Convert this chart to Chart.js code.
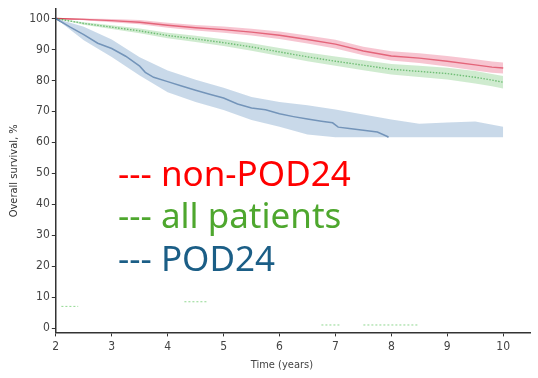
<!DOCTYPE html>
<html>
<head>
  <title>Overall survival POD24</title>
  <script src="https://cdn.jsdelivr.net/npm/chart.js"></script>
  <style>
    body { margin: 0; background: white; }
    #wrap { position: relative; width: 538px; height: 378px; }
    .legend {
      position: absolute;
      left: 118px;
      font-family: "Noto Sans", "Open Sans", sans-serif;
      font-size: 35px;
      line-height: 35px;
      white-space: pre;
    }
  </style>
</head>
<body>
  <div id="wrap">
    <canvas id="survChart" width="538" height="378"></canvas>
    <div class="legend" style="top:155px;color:#ff0000">--- non-POD24</div>
    <div class="legend" style="top:197px;color:#4ea72e">--- all patients</div>
    <div class="legend" style="top:240px;color:#1b5e86">--- POD24</div>
  </div>

  <script>
    // time points (years)
    const yearsMain = [2, 2.5, 3, 3.5, 4, 4.5, 5, 5.5, 6, 6.5, 7, 7.5, 8, 8.5, 9, 9.5, 9.8, 10];
    const nonPod24 = [100, 99.7, 99.3, 98.8, 97.8, 97, 96.4, 95.6, 94.6, 93.2, 91.7, 89.5, 87.9, 87.2, 86.2, 85, 84.3, 84];
    const nonPod24Hi = [100, 100, 99.8, 99.5, 98.6, 97.9, 97.4, 96.7, 95.8, 94.5, 93.1, 90.9, 89.4, 88.8, 87.9, 86.8, 86.1, 85.8];
    const nonPod24Lo = [100, 99.4, 98.8, 98.1, 97, 96.1, 95.4, 94.5, 93.4, 91.9, 90.3, 88.1, 86.4, 85.6, 84.5, 83.2, 82.5, 82.2];
    const allPts = [100, 98.4, 97.2, 96, 94.5, 93.4, 92.2, 90.8, 89.2, 87.6, 86.2, 84.9, 83.6, 82.9, 82.2, 81, 80.1, 79.4];
    const allPtsHi = [100, 98.8, 97.8, 96.8, 95.4, 94.4, 93.3, 92, 90.5, 89, 87.7, 86.5, 85.3, 84.7, 84.1, 83, 82.1, 81.4];
    const allPtsLo = [100, 98, 96.6, 95.2, 93.6, 92.4, 91.1, 89.6, 87.9, 86.2, 84.7, 83.3, 81.9, 81.1, 80.3, 79, 78.1, 77.4];

    const yearsPod = [2, 2.25, 2.5, 2.75, 3, 3.25, 3.5, 3.6, 3.75, 4, 4.25, 4.5, 4.75, 5, 5.25, 5.5, 5.75, 6, 6.25, 6.5, 6.75, 6.95, 7.05, 7.25, 7.5, 7.75, 7.95];
    const pod24 = [100, 97.3, 94.8, 92, 90.3, 87.8, 84.6, 82.6, 81, 79.6, 78.2, 76.8, 75.5, 74.3, 72.4, 71.1, 70.5, 69.2, 68.3, 67.5, 66.8, 66.3, 64.9, 64.5, 63.9, 63.3, 61.7];
    const yearsPodBand = [2, 2.5, 3, 3.5, 4, 4.5, 5, 5.5, 6, 6.5, 7, 7.5, 8, 8.5, 9, 9.5, 10];
    const pod24Hi = [100, 97.3, 93.2, 87.5, 83.2, 80.2, 77.6, 74.6, 73, 72, 70.6, 69, 67.4, 66, 66.4, 66.7, 65];
    const pod24Lo = [100, 93, 87.6, 81.6, 76.2, 73, 70.4, 67.2, 65, 62.5, 61.6, 61.6, 61.6, 61.6, 61.6, 61.6, 61.6];

    // faint leftovers of the risk table near the bottom
    const marksX = [2.1, 2.4, null, 4.3, 4.7, null, 6.75, 7.1, null, 7.5, 8.5];
    const marksY = [7, 7, null, 8.5, 8.5, null, 1, 1, null, 1, 1];

    const xTicks = [2, 3, 4, 5, 6, 7, 8, 9, 10];
    const yTicks = [0, 10, 20, 30, 40, 50, 60, 70, 80, 90, 100];

    const pts = (xs, ys) => xs.map((x, i) => ({ x: x, y: ys[i] }));

    function band(xs, lo, hi, color) {
      return [
        { data: pts(xs, lo), borderWidth: 0, pointRadius: 0, fill: false },
        { data: pts(xs, hi), borderWidth: 0, pointRadius: 0, fill: '-1', backgroundColor: color }
      ];
    }

    const axisFont = { family: '"DejaVu Sans Condensed", "Liberation Sans Narrow", sans-serif', size: 12 };

    new Chart(document.getElementById('survChart'), {
      type: 'line',
      data: {
        datasets: [
          ...band(yearsPodBand, pod24Lo, pod24Hi, 'rgba(165,192,219,0.6)'),
          ...band(yearsMain, allPtsLo, allPtsHi, 'rgba(160,215,160,0.5)'),
          ...band(yearsMain, nonPod24Lo, nonPod24Hi, 'rgba(240,150,172,0.55)'),
          { data: pts(yearsPod, pod24), borderColor: '#2a5488', borderWidth: 1.5, pointRadius: 0, fill: false },
          { data: pts(yearsMain, allPts), borderColor: '#3fa34a', borderWidth: 1.4, borderDash: [1.5, 1.5], pointRadius: 0, fill: false },
          { data: pts(yearsMain, nonPod24), borderColor: '#d42a3e', borderWidth: 1.4, pointRadius: 0, fill: false },
          { data: pts(marksX, marksY), borderColor: 'rgba(70,190,70,0.6)', borderWidth: 1, borderDash: [2, 2], pointRadius: 0, fill: false, spanGaps: false }
        ]
      },
      options: {
        animation: false,
        responsive: false,
        layout: { padding: { top: 6, right: 8, left: 4, bottom: 2 } },
        plugins: { legend: { display: false }, tooltip: { enabled: false } },
        scales: {
          x: {
            type: 'linear',
            min: 2,
            max: 10.48,
            afterBuildTicks: axis => { axis.ticks = xTicks.map(v => ({ value: v })); },
            grid: { drawOnChartArea: false, drawTicks: true, tickLength: 4, color: '#333' },
            border: { color: '#333', width: 1.5 },
            ticks: { color: '#444', font: axisFont, padding: 3, maxRotation: 0 },
            title: { display: true, text: 'Time (years)       ', color: '#444', font: { family: axisFont.family, size: 11 }, padding: { top: 2 } }
          },
          y: {
            min: -1.4,
            max: 103,
            afterBuildTicks: axis => { axis.ticks = yTicks.map(v => ({ value: v })); },
            grid: { drawOnChartArea: false, drawTicks: true, tickLength: 4, color: '#333' },
            border: { color: '#333', width: 1.5 },
            ticks: { color: '#444', font: axisFont, padding: 2 },
            title: { display: true, text: 'Overall survival, %', color: '#333', font: { family: axisFont.family, size: 11 }, padding: { bottom: 6 } }
          }
        }
      }
    });
  </script>
</body>
</html>
